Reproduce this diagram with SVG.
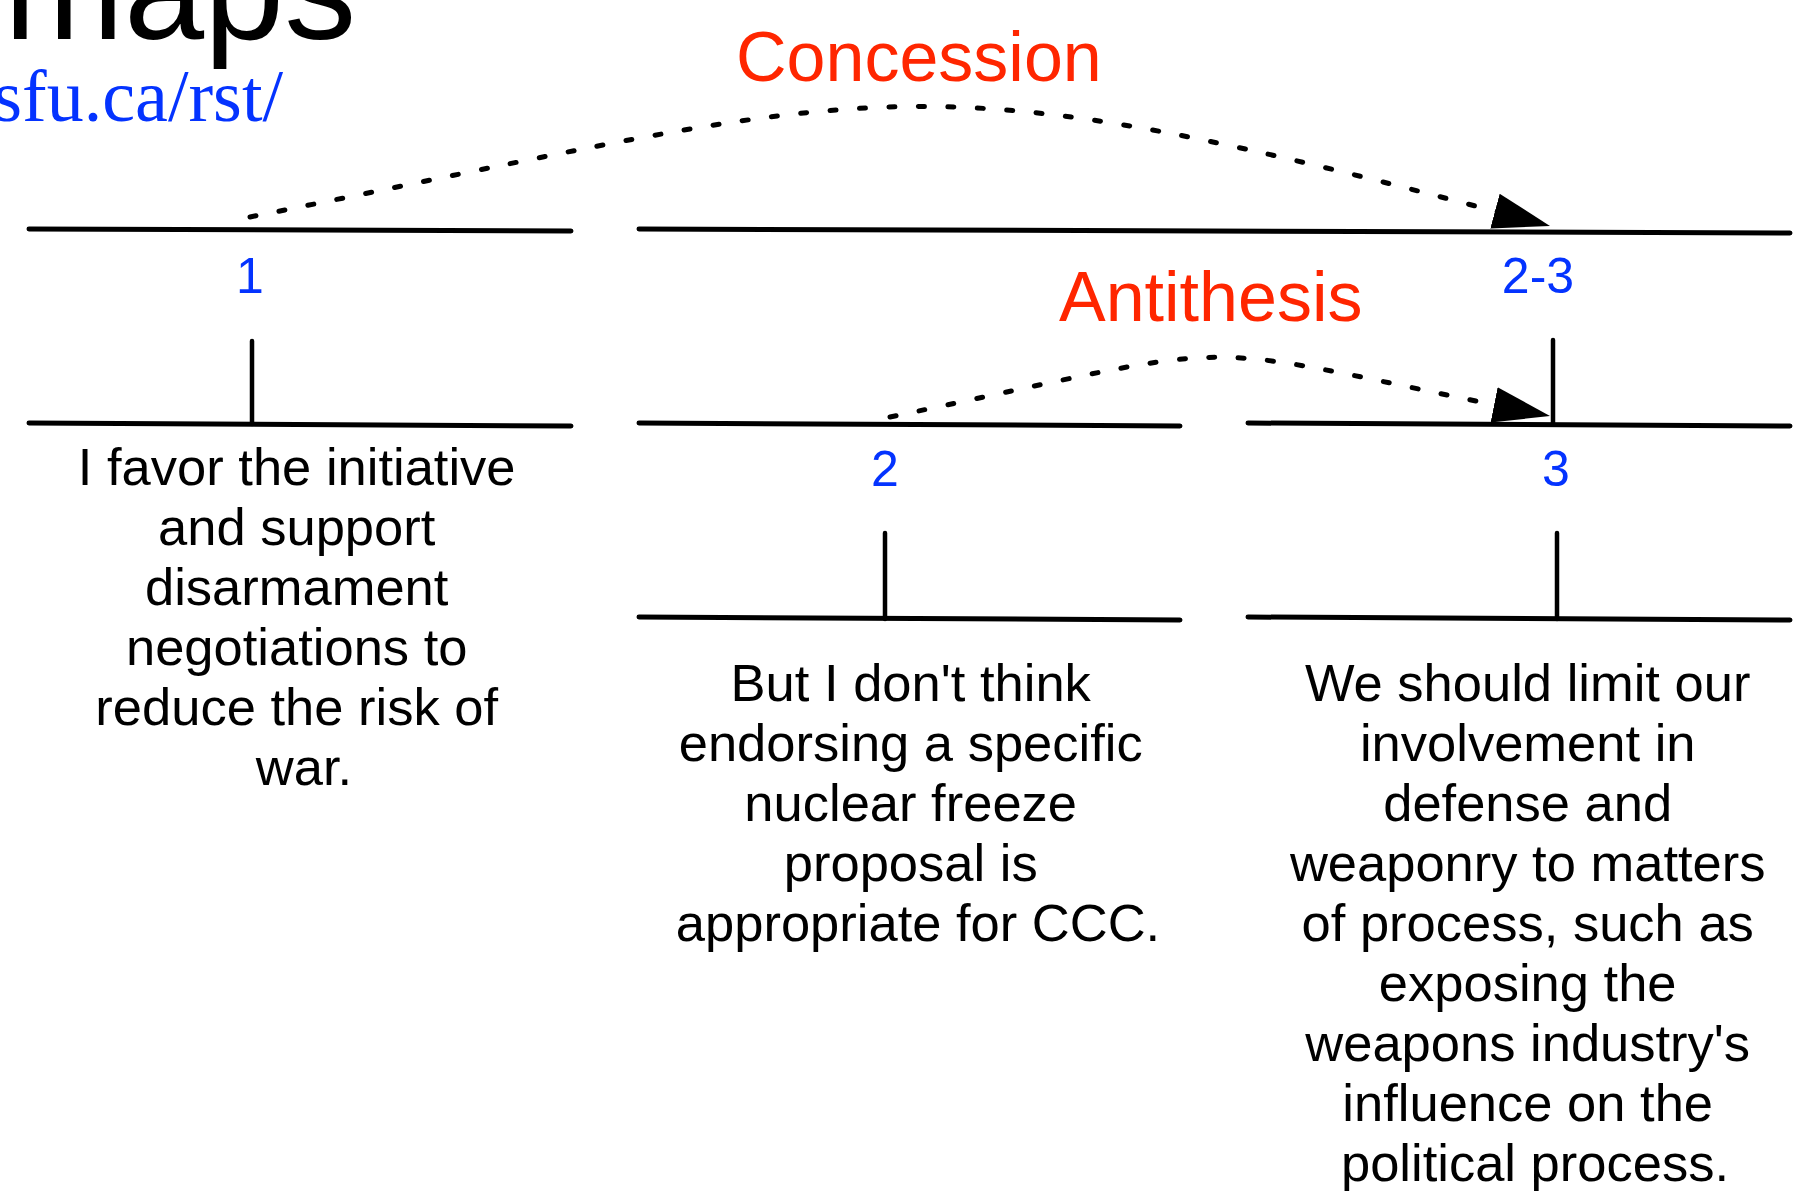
<svg xmlns="http://www.w3.org/2000/svg" width="1817" height="1191" viewBox="0 0 1817 1191">
<style>
.bar{stroke:#000;stroke-width:5;stroke-linecap:round;fill:none}
.tick{stroke:#000;stroke-width:4.5;stroke-linecap:round;fill:none}
.num{font-family:"Liberation Sans",Arial,sans-serif;font-size:50px;fill:#0433ff;text-anchor:middle}
.body{font-family:"Liberation Sans",Arial,sans-serif;font-size:52.5px;fill:#000;text-anchor:middle}
.rel{font-family:"Liberation Sans",Arial,sans-serif;font-size:70px;fill:#ff2600}
.dot{stroke:#000;stroke-width:5;stroke-linecap:round;stroke-dasharray:6 23.5;fill:none}
</style>
<defs>
<marker id="ah" markerUnits="userSpaceOnUse" markerWidth="58" markerHeight="38" refX="57" refY="18" orient="auto" viewBox="0 0 58 38">
<path d="M0,0 L57,18 L0,36 Z" fill="#000"/>
</marker>
</defs>
<rect width="1817" height="1191" fill="#fff"/>
<g id="title">
<text x="4" y="39" font-family="'Liberation Sans',Arial,sans-serif" font-size="144" fill="#000">maps</text>
<text x="283" y="121" font-family="'Liberation Serif','Times New Roman',serif" font-size="74" fill="#0433ff" text-anchor="end">sfu.ca/rst/</text>
</g>
<g id="node-1">
<line class="bar" x1="29" y1="229" x2="571" y2="231"/>
<text class="num" x="250" y="293">1</text>
<line class="tick" x1="252" y1="341" x2="252" y2="424"/>
<line class="bar" x1="29" y1="423" x2="571" y2="426"/>
<text class="body">
<tspan x="304" y="485">I favor the initiative</tspan>
<tspan x="304" y="545">and support</tspan>
<tspan x="304" y="605">disarmament</tspan>
<tspan x="304" y="665">negotiations to</tspan>
<tspan x="304" y="725">reduce the risk of</tspan>
<tspan x="304" y="785">war.</tspan>
</text>
</g>
<g id="node-2-3">
<line class="bar" x1="639" y1="229" x2="1790" y2="233"/>
<text class="num" x="1538" y="293">2-3</text>
<line class="tick" x1="1553" y1="340" x2="1553" y2="424"/>
</g>
<g id="node-2">
<line class="bar" x1="639" y1="423" x2="1180" y2="426"/>
<text class="num" x="885" y="486">2</text>
<line class="tick" x1="885" y1="533" x2="885" y2="619"/>
<line class="bar" x1="639" y1="617" x2="1180" y2="620"/>
<text class="body">
<tspan x="918" y="701">But I don't think</tspan>
<tspan x="918" y="761">endorsing a specific</tspan>
<tspan x="918" y="821">nuclear freeze</tspan>
<tspan x="918" y="881">proposal is</tspan>
<tspan x="918" y="941">appropriate for CCC.</tspan>
</text>
</g>
<g id="node-3">
<line class="bar" x1="1248" y1="423" x2="1790" y2="426"/>
<text class="num" x="1556" y="486">3</text>
<line class="tick" x1="1557" y1="533" x2="1557" y2="619"/>
<line class="bar" x1="1248" y1="617" x2="1790" y2="620"/>
<text class="body">
<tspan x="1535" y="701">We should limit our</tspan>
<tspan x="1535" y="761">involvement in</tspan>
<tspan x="1535" y="821">defense and</tspan>
<tspan x="1535" y="881">weaponry to matters</tspan>
<tspan x="1535" y="941">of process, such as</tspan>
<tspan x="1535" y="1001">exposing the</tspan>
<tspan x="1535" y="1061">weapons industry's</tspan>
<tspan x="1535" y="1121">influence on the</tspan>
<tspan x="1535" y="1181">political process.</tspan>
</text>
</g>
<g id="connectors">
<path class="dot" d="M250,217 C899,87 899,50 1550,226" marker-end="url(#ah)"/>
<text class="rel" x="736" y="81">Concession</text>
<path class="dot" d="M890,417 C1277,336 1163,339 1550,416" marker-end="url(#ah)"/>
<text class="rel" x="1059" y="321">Antithesis</text>
</g>
</svg>
